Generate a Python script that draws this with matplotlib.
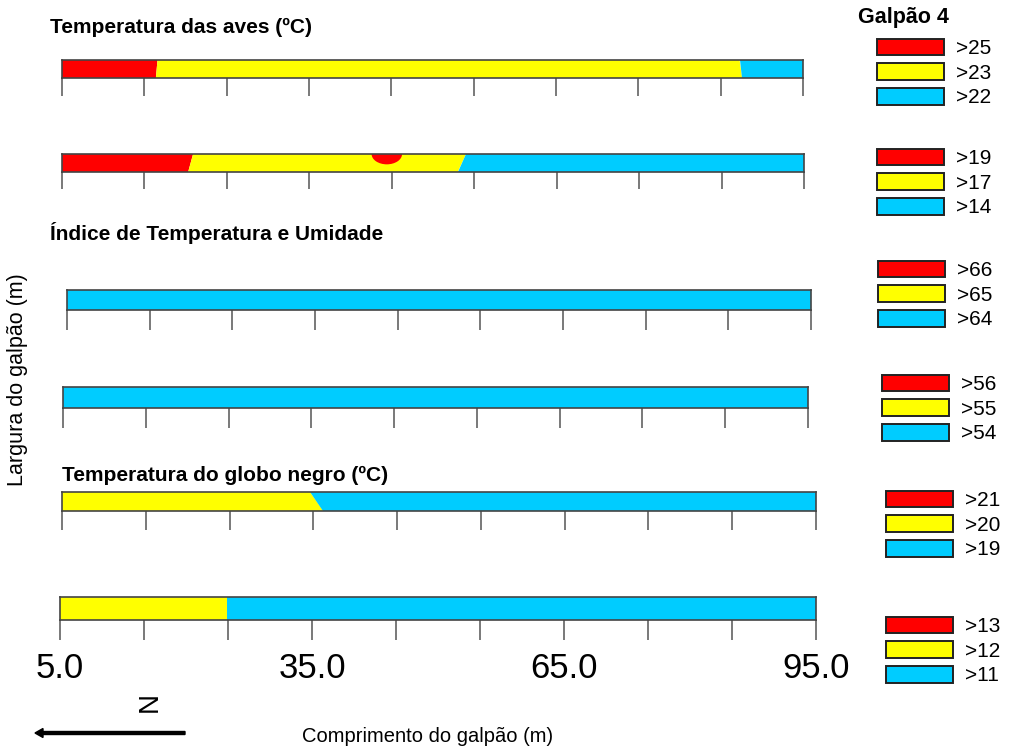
import matplotlib
matplotlib.use('Agg')
import matplotlib.pyplot as plt
from matplotlib import font_manager
from matplotlib.patches import Patch, Ellipse

# cores das classes (alta, media, baixa)
RED = '#ff0000'
YEL = '#ffff00'
CYA = '#00ccff'

fonts = set(f.name for f in font_manager.fontManager.ttflist)
NARROW = 'Liberation Sans Narrow' if 'Liberation Sans Narrow' in fonts else 'Liberation Sans'
plt.rcParams['font.family'] = 'Liberation Sans'

# eixo x (comprimento do galpao)
tick_vals = [5, 15, 25, 35, 45, 55, 65, 75, 85, 95]
tick_labels = ['5.0', '', '', '35.0', '', '', '65.0', '', '', '95.0']

# limites entre as classes de cor em cada faixa (topo, base)
p1_top, p1_bot, p1_cols = [16.6, 87.3], [16.4, 87.6], [RED, YEL, CYA]
p2_top, p2_bot, p2_cols = [20.9, 54.0], [20.3, 53.0], [RED, YEL, CYA]
p3_top, p3_bot, p3_cols = [], [], [CYA]
p4_top, p4_bot, p4_cols = [], [], [CYA]
p5_top, p5_bot, p5_cols = [34.6], [36.2], [YEL, CYA]
p6_top, p6_bot, p6_cols = [24.9], [24.9], [YEL, CYA]
p2_spot = 44.4  # mancha vermelha no topo

# legendas
leg1 = ['>25', '>23', '>22']
leg2 = ['>19', '>17', '>14']
leg3 = ['>66', '>65', '>64']
leg4 = ['>56', '>55', '>54']
leg5 = ['>21', '>20', '>19']
leg6 = ['>13', '>12', '>11']

W, H = 1011, 751
fig = plt.figure(figsize=(W / 100, H / 100), dpi=100)

# posicao em pixels: esquerda, direita, topo, base, comprimento do tick
panels = [
    (p1_top, p1_bot, p1_cols, (62, 803, 60, 78, 18)),
    (p2_top, p2_bot, p2_cols, (62, 804, 154, 172, 17)),
    (p3_top, p3_bot, p3_cols, (67, 811, 290, 310, 20)),
    (p4_top, p4_bot, p4_cols, (63, 808, 387, 408, 20)),
    (p5_top, p5_bot, p5_cols, (62, 816, 492, 511, 19)),
    (p6_top, p6_bot, p6_cols, (60, 816, 597, 620, 20)),
]

axes = []
for i, (top, bot, cols, (l, r, t, b, tl)) in enumerate(panels):
    ax = fig.add_axes([l / W, 1 - b / H, (r - l) / W, (b - t) / H])
    xt = [5] + top + [95]
    xb = [5] + bot + [95]
    for k, c in enumerate(cols):
        ax.fill([xt[k], xt[k + 1], xb[k + 1], xb[k]], [1, 1, 0, 0],
                color=c, lw=0)
    if i == 1:
        ax.add_patch(Ellipse((p2_spot, 1.0), 3.7, 1.15, color=RED, lw=0))
    ax.set_xlim(5, 95)
    ax.set_ylim(0, 1)
    ax.set_yticks([])
    ax.set_xticks(tick_vals)
    ax.tick_params(axis='x', direction='out', length=tl * 0.72, width=1.1,
                   color='#555555', pad=9)
    if i == 5:
        ax.set_xticklabels(tick_labels, fontsize=25, family=NARROW)
    else:
        ax.set_xticklabels([])
    for s in ax.spines.values():
        s.set_color('#444444')
        s.set_linewidth(1.2)
    axes.append(ax)

# titulos das variaveis
fig.text(50 / W, 1 - 27 / H, 'Temperatura das aves (ºC)', fontsize=15,
         fontweight='bold', va='center', ha='left')
fig.text(50 / W, 1 - 233 / H, 'Índice de Temperatura e Umidade', fontsize=15,
         fontweight='bold', va='center', ha='left')
fig.text(62 / W, 1 - 475 / H, 'Temperatura do globo negro (ºC)', fontsize=15,
         fontweight='bold', va='center', ha='left')
fig.text(903 / W, 1 - 17 / H, 'Galpão 4', fontsize=15.5, fontweight='bold',
         va='center', ha='center')

fig.text(18 / W, 1 - 380 / H, 'Largura do galpão (m)', fontsize=15.5,
         rotation=90, va='center', ha='center')
fig.text(428 / W, 1 - 737 / H, 'Comprimento do galpão (m)', fontsize=14.5,
         family=NARROW, va='center', ha='center')

# norte
fig.text(150 / W, 1 - 702 / H, 'N', fontsize=20, rotation=90,
         va='center', ha='center')
fig.patches.append(matplotlib.patches.FancyArrow(
    185 / W, 1 - 733 / H, -150 / W, 0, width=3 / H, head_width=9 / H,
    head_length=8 / W, length_includes_head=True, color='black',
    transform=fig.transFigure, figure=fig))

# legendas de cada faixa
legs = [(leg1, 877, 73), (leg2, 877, 183), (leg3, 878, 295),
        (leg4, 882, 409), (leg5, 886, 525), (leg6, 886, 651)]
for labels, x, y in legs:
    handles = [Patch(facecolor=c, edgecolor='#222222', linewidth=1.4)
               for c in (RED, YEL, CYA)]
    fig.legend(handles, labels, loc='center left',
               bbox_to_anchor=(x / W, 1 - y / H), frameon=False,
               fontsize=15, handlelength=3.2, handleheight=0.87,
               labelspacing=0.24, handletextpad=0.6, borderpad=0,
               borderaxespad=0)

fig.savefig('out.png', dpi=100)
